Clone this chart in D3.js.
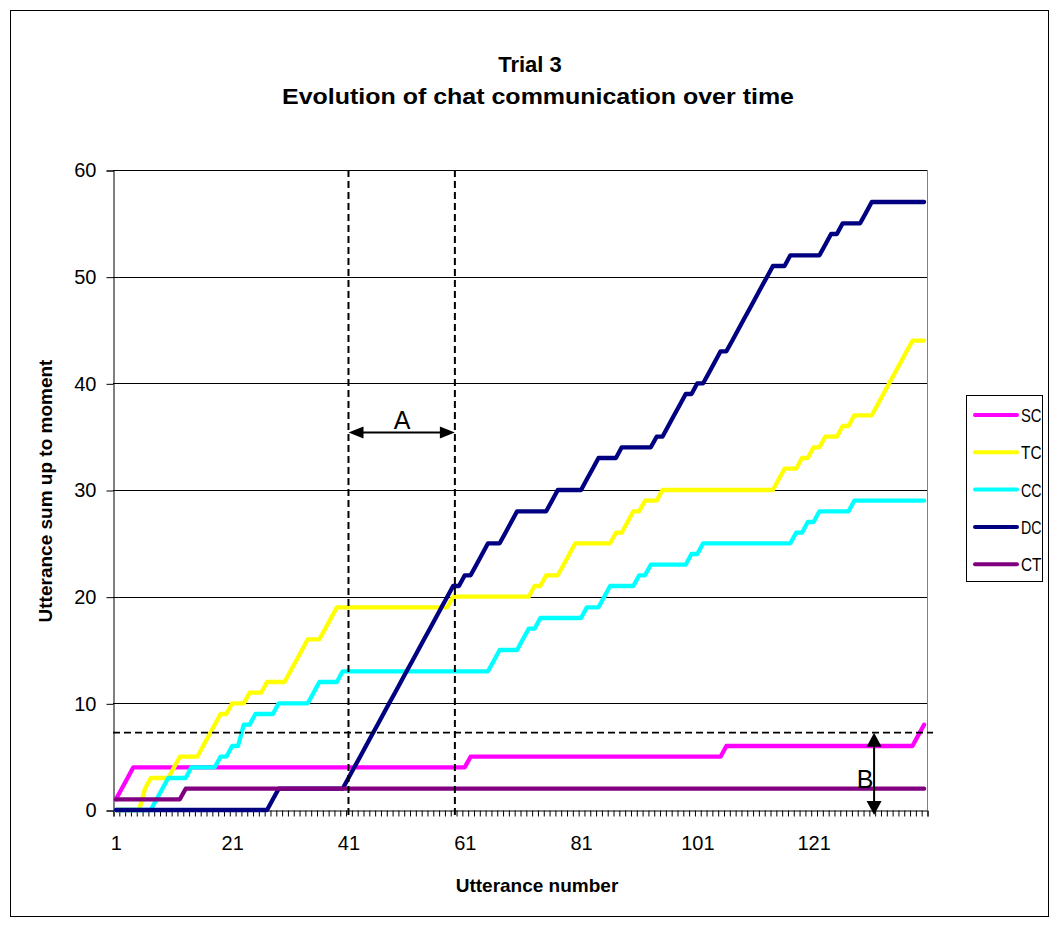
<!DOCTYPE html>
<html>
<head>
<meta charset="utf-8">
<script src="https://cdn.jsdelivr.net/npm/d3@7/dist/d3.min.js"></script>
<style>
  html, body { margin: 0; padding: 0; background: #fff; }
  svg { display: block; }
  text { font-family: Arial, "Liberation Sans", sans-serif; }
</style>
</head>
<body>
<svg id="chart" width="1059" height="927"></svg>
<script>
// ---------------- DATA ----------------
const titleLines = ["Trial 3", "Evolution of chat communication over time"];
const xTitle = "Utterance number";
const yTitle = "Utterance sum up to moment";
const seriesNames = ["SC", "TC", "CC", "DC", "CT"];
const seriesColors = ["#FF00FF", "#FFFF00", "#00FFFF", "#000080", "#800080"];
const xTickLabels = [1, 21, 41, 61, 81, 101, 121];
const yTickValues = [0, 10, 20, 30, 40, 50, 60];

const SC = [
  1,2,3,4,4,4,4,4,4,4,
  4,4,4,4,4,4,4,4,4,4,
  4,4,4,4,4,4,4,4,4,4,
  4,4,4,4,4,4,4,4,4,4,
  4,4,4,4,4,4,4,4,4,4,
  4,4,4,4,4,4,4,4,4,4,
  4,5,5,5,5,5,5,5,5,5,
  5,5,5,5,5,5,5,5,5,5,
  5,5,5,5,5,5,5,5,5,5,
  5,5,5,5,5,5,5,5,5,5,
  5,5,5,5,5,6,6,6,6,6,
  6,6,6,6,6,6,6,6,6,6,
  6,6,6,6,6,6,6,6,6,6,
  6,6,6,6,6,6,6,6,7,8
];
const TC = [
  0,0,0,0,0,2,3,3,3,3,
  4,5,5,5,5,6,7,8,9,9,
  10,10,10,11,11,11,12,12,12,12,
  13,14,15,16,16,16,17,18,19,19,
  19,19,19,19,19,19,19,19,19,19,
  19,19,19,19,19,19,19,19,20,20,
  20,20,20,20,20,20,20,20,20,20,
  20,20,21,21,22,22,22,23,24,25,
  25,25,25,25,25,25,26,26,27,28,
  28,29,29,29,30,30,30,30,30,30,
  30,30,30,30,30,30,30,30,30,30,
  30,30,30,30,31,32,32,32,33,33,
  34,34,35,35,35,36,36,37,37,37,
  37,38,39,40,41,42,43,44,44,44
];
const CC = [
  0,0,0,0,0,0,0,1,2,3,
  3,3,3,4,4,4,4,4,5,5,
  6,6,8,8,9,9,9,9,10,10,
  10,10,10,10,11,12,12,12,12,13,
  13,13,13,13,13,13,13,13,13,13,
  13,13,13,13,13,13,13,13,13,13,
  13,13,13,13,13,14,15,15,15,15,
  16,17,17,18,18,18,18,18,18,18,
  18,19,19,19,20,21,21,21,21,21,
  22,22,23,23,23,23,23,23,23,24,
  24,25,25,25,25,25,25,25,25,25,
  25,25,25,25,25,25,25,26,26,27,
  27,28,28,28,28,28,28,29,29,29,
  29,29,29,29,29,29,29,29,29,29
];
const DC = [
  0,0,0,0,0,0,0,0,0,0,
  0,0,0,0,0,0,0,0,0,0,
  0,0,0,0,0,0,0,1,2,2,
  2,2,2,2,2,2,2,2,2,2,
  3,4,5,6,7,8,9,10,11,12,
  13,14,15,16,17,18,19,20,21,21,
  22,22,23,24,25,25,25,26,27,28,
  28,28,28,28,28,29,30,30,30,30,
  30,31,32,33,33,33,33,34,34,34,
  34,34,34,35,35,36,37,38,39,39,
  40,40,41,42,43,43,44,45,46,47,
  48,49,50,51,51,51,52,52,52,52,
  52,52,53,54,54,55,55,55,55,56,
  57,57,57,57,57,57,57,57,57,57
];
const CT = [
  1,1,1,1,1,1,1,1,1,1,
  1,1,2,2,2,2,2,2,2,2,
  2,2,2,2,2,2,2,2,2,2,
  2,2,2,2,2,2,2,2,2,2,
  2,2,2,2,2,2,2,2,2,2,
  2,2,2,2,2,2,2,2,2,2,
  2,2,2,2,2,2,2,2,2,2,
  2,2,2,2,2,2,2,2,2,2,
  2,2,2,2,2,2,2,2,2,2,
  2,2,2,2,2,2,2,2,2,2,
  2,2,2,2,2,2,2,2,2,2,
  2,2,2,2,2,2,2,2,2,2,
  2,2,2,2,2,2,2,2,2,2,
  2,2,2,2,2,2,2,2,2,2
];
const seriesValues = [SC, TC, CC, DC, CT];

// annotation positions (in data units)
const markA = { from: 41, to: 59.3, level: 35.4, label: "A" };
const markB = { at: 131.4, top: 7.25, label: "B" };

// ---------------- LAYOUT ----------------
const svg = d3.select("#chart");
const plot = { left: 113, right: 927, top: 170, bottom: 810 };
const N = SC.length;

const x = d3.scaleLinear().domain([0.5, N + 0.5]).range([plot.left, plot.right]);
const y = d3.scaleLinear().domain([0, 60]).range([plot.bottom, plot.top]);

// outer frame
svg.append("rect").attr("x", 10.5).attr("y", 10.5).attr("width", 1038).attr("height", 906)
  .attr("fill", "#fff").attr("stroke", "#000").attr("stroke-width", 1);

// title
svg.append("text").attr("x", 530).attr("y", 72).attr("text-anchor", "middle")
  .attr("font-weight", "bold").attr("font-size", 22).text(titleLines[0]);
svg.append("text").attr("x", 538).attr("y", 104).attr("text-anchor", "middle")
  .attr("font-weight", "bold").attr("font-size", 22)
  .attr("textLength", 512).attr("lengthAdjust", "spacingAndGlyphs").text(titleLines[1]);

// gridlines
svg.append("g").selectAll("line").data(yTickValues.filter(v => v > 0)).join("line")
  .attr("x1", plot.left).attr("x2", plot.right)
  .attr("y1", d => Math.round(y(d)) + 0.5).attr("y2", d => Math.round(y(d)) + 0.5)
  .attr("stroke", "#000").attr("stroke-width", 1);

// right plot border
svg.append("line").attr("x1", plot.right + 0.5).attr("x2", plot.right + 0.5)
  .attr("y1", plot.top).attr("y2", plot.bottom).attr("stroke", "#808080");

// y axis
const yAxis = d3.axisLeft(y).tickValues(yTickValues).tickSize(7).tickPadding(10);
const gy = svg.append("g").attr("transform", `translate(${plot.left + 0.5},0.5)`).call(yAxis);
gy.select(".domain").attr("stroke", "#000");
gy.selectAll(".tick line").attr("stroke", "#000");
gy.selectAll(".tick text").attr("font-size", 20).attr("font-family", "Arial, 'Liberation Sans', sans-serif").attr("fill", "#000");

// x axis: minor ticks at category boundaries
const boundaries = d3.range(0, N + 1).map(i => i + 0.5);
const xAxisTicks = d3.axisBottom(x).tickValues(boundaries).tickSize(6).tickFormat("");
const gx = svg.append("g").attr("transform", `translate(0.5,${plot.bottom + 0.5})`).call(xAxisTicks);
gx.select(".domain").attr("stroke", "#000");
gx.selectAll(".tick line").attr("stroke", "#000");

const xAxisLabels = d3.axisBottom(x).tickValues(xTickLabels).tickSize(0).tickPadding(26);
const gxl = svg.append("g").attr("transform", `translate(0,${plot.bottom})`).call(xAxisLabels);
gxl.select(".domain").remove();
gxl.selectAll(".tick text").attr("font-size", 20).attr("font-family", "Arial, 'Liberation Sans', sans-serif").attr("fill", "#000");

// axis titles
svg.append("text").attr("x", 537).attr("y", 892).attr("text-anchor", "middle")
  .attr("font-weight", "bold").attr("font-size", 19).text(xTitle);
svg.append("text").attr("transform", "translate(52,491) rotate(-90)").attr("text-anchor", "middle")
  .attr("font-weight", "bold").attr("font-size", 19).text(yTitle);

// series lines
const line = d3.line().x((d, i) => x(i + 1)).y(d => y(d));
svg.append("g").selectAll("path").data(seriesValues).join("path")
  .attr("d", d => line(d))
  .attr("fill", "none")
  .attr("stroke", (d, i) => seriesColors[i])
  .attr("stroke-width", 4.3)
  .attr("stroke-linejoin", "round")
  .attr("stroke-linecap", "round");

// annotations: dashed lines
const ann = svg.append("g");
[markA.from, markA.to].forEach(v => {
  ann.append("line").attr("x1", x(v)).attr("x2", x(v)).attr("y1", plot.top).attr("y2", plot.bottom + 7)
    .attr("stroke", "#000").attr("stroke-width", 2).attr("stroke-dasharray", "7,4");
});
ann.append("line").attr("x1", plot.left).attr("x2", plot.right + 6)
  .attr("y1", y(markB.top)).attr("y2", y(markB.top))
  .attr("stroke", "#000").attr("stroke-width", 1.6).attr("stroke-dasharray", "7,4");

// arrow A
const ax1 = x(markA.from), ax2 = x(markA.to), ay = y(markA.level);
ann.append("line").attr("x1", ax1 + 10).attr("x2", ax2 - 10).attr("y1", ay).attr("y2", ay)
  .attr("stroke", "#000").attr("stroke-width", 2);
ann.append("path").attr("d", `M${ax1},${ay} L${ax1 + 15},${ay - 6} L${ax1 + 15},${ay + 6} Z`).attr("fill", "#000");
ann.append("path").attr("d", `M${ax2},${ay} L${ax2 - 15},${ay - 6} L${ax2 - 15},${ay + 6} Z`).attr("fill", "#000");
ann.append("text").attr("x", (ax1 + ax2) / 2 + 0.5).attr("y", ay - 3).attr("text-anchor", "middle")
  .attr("font-family", "'Times New Roman', 'Liberation Serif', serif").attr("font-size", 25).text(markA.label);

// arrow B
const bx = x(markB.at), by1 = y(markB.top), by2 = plot.bottom + 5;
ann.append("line").attr("x1", bx).attr("x2", bx).attr("y1", by1 + 10).attr("y2", by2 - 10)
  .attr("stroke", "#000").attr("stroke-width", 2);
ann.append("path").attr("d", `M${bx},${by1} L${bx - 7.5},${by1 + 14} L${bx + 7.5},${by1 + 14} Z`).attr("fill", "#000");
ann.append("path").attr("d", `M${bx},${by2} L${bx - 7.5},${by2 - 14} L${bx + 7.5},${by2 - 14} Z`).attr("fill", "#000");
ann.append("text").attr("x", bx - 9).attr("y", 788).attr("text-anchor", "middle")
  .attr("font-family", "'Times New Roman', 'Liberation Serif', serif").attr("font-size", 25).text(markB.label);

// legend
const lg = svg.append("g");
lg.append("rect").attr("x", 966.5).attr("y", 395.5).attr("width", 76).attr("height", 186)
  .attr("fill", "#fff").attr("stroke", "#000");
seriesNames.forEach((name, i) => {
  const ly = 415 + i * 37.3;
  lg.append("line").attr("x1", 975).attr("x2", 1017).attr("y1", ly).attr("y2", ly)
    .attr("stroke", seriesColors[i]).attr("stroke-width", 4).attr("stroke-linecap", "round");
  lg.append("text").attr("x", 1021).attr("y", ly + 7).attr("font-size", 19)
    .attr("textLength", 20.5).attr("lengthAdjust", "spacingAndGlyphs").text(name);
});
</script>
</body>
</html>
